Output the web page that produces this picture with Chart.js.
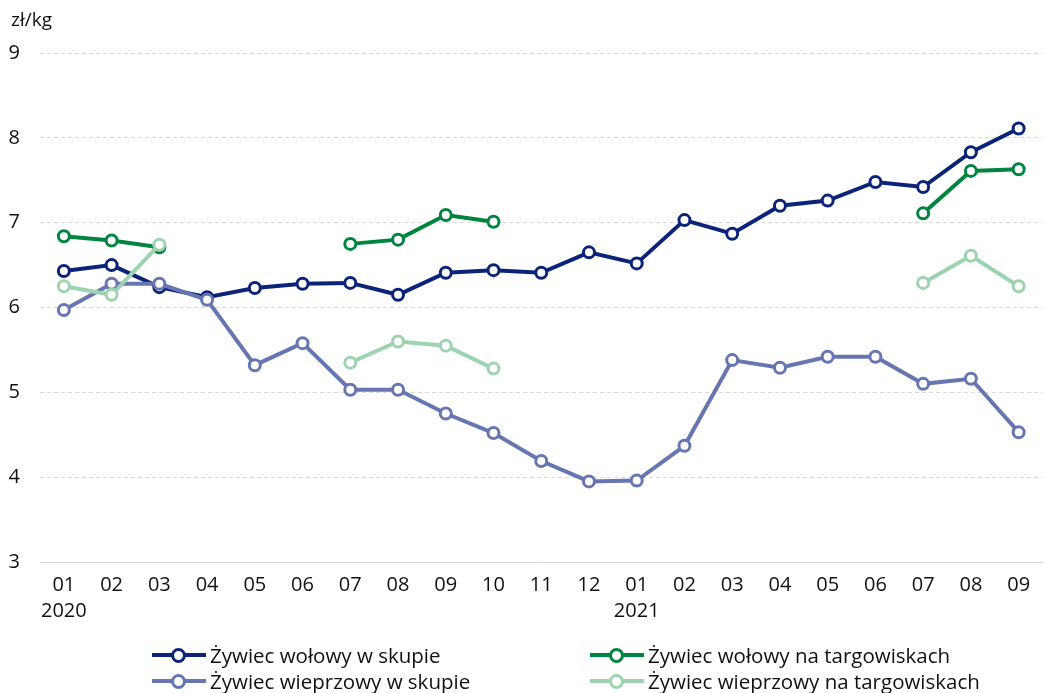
<!DOCTYPE html>
<html>
<head>
<meta charset="utf-8">
<script src="https://cdn.jsdelivr.net/npm/chart.js@4"></script>
<style>
  html, body { margin: 0; padding: 0; background: #fff; }
  #wrap { position: relative; width: 1051px; height: 693px; }
  #legend {
    position: absolute; left: 152px; top: 642px;
    display: grid; grid-template-columns: 438px 420px; row-gap: 1px;
    font-family: "Open Sans", sans-serif; font-size: 20.5px; color: #111;
  }
  .item { display: flex; align-items: center; height: 25px; white-space: nowrap; }
  .mark { position: relative; width: 54px; height: 14px; margin-right: 4px; }
  .mark .ln { position: absolute; left: 0; right: 0; top: 5px; height: 4px; }
  .mark .dot { position: absolute; left: 19px; top: 0; width: 9px; height: 9px; border-radius: 50%; background: #fff; border: 3px solid; }
</style>
</head>
<body>
<div id="wrap">
  <canvas id="chart" width="1051" height="693"></canvas>
  <div id="legend"></div>
</div>
<script>
// miesiące: 01.2020 - 09.2021
const months = ["01","02","03","04","05","06","07","08","09","10","11","12",
                "01","02","03","04","05","06","07","08","09"];
const years = {0: "2020", 12: "2021"};

const wolowySkup = [6.43, 6.50, 6.24, 6.12, 6.23, 6.28, 6.29, 6.15, 6.41, 6.44, 6.41, 6.65,
                    6.52, 7.03, 6.87, 7.20, 7.26, 7.48, 7.42, 7.83, 8.11];
const wolowyTarg = [6.84, 6.79, 6.71, null, null, null, 6.75, 6.80, 7.09, 7.01, null, null,
                    null, null, null, null, null, null, 7.11, 7.61, 7.63];
const wieprzowySkup = [5.97, 6.28, 6.28, 6.09, 5.32, 5.58, 5.03, 5.03, 4.75, 4.52, 4.19, 3.95,
                       3.96, 4.37, 5.38, 5.29, 5.42, 5.42, 5.10, 5.16, 4.53];
const wieprzowyTarg = [6.25, 6.15, 6.74, null, null, null, 5.35, 5.60, 5.55, 5.28, null, null,
                       null, null, null, null, null, null, 6.29, 6.61, 6.25];

const seriesNames = ["Żywiec wołowy w skupie", "Żywiec wołowy na targowiskach",
                     "Żywiec wieprzowy w skupie", "Żywiec wieprzowy na targowiskach"];
const seriesColors = ["#0b2479", "#008540", "#6776b0", "#9dd3b0"];
const seriesData = [wolowySkup, wolowyTarg, wieprzowySkup, wieprzowyTarg];
const drawOrder = [3, 2, 1, 0]; // jasnozielona na wierzchu

const labels = months.map((m, i) => years[i] ? [m, years[i]] : m);

const datasets = seriesData.map((d, i) => ({
  label: seriesNames[i],
  data: d,
  borderColor: seriesColors[i],
  backgroundColor: "#fff",
  pointBackgroundColor: "#fff",
  pointBorderColor: seriesColors[i],
  borderWidth: 4,
  pointRadius: 5.5,
  pointBorderWidth: 3,
  spanGaps: false,
  tension: 0,
  order: drawOrder[i],
}));

// jednostka nad osią Y
const unitLabel = {
  id: "unitLabel",
  afterDraw(chart) {
    const ctx = chart.ctx;
    ctx.save();
    ctx.font = "19px 'Open Sans', sans-serif";
    ctx.fillStyle = "#111";
    ctx.textBaseline = "middle";
    ctx.fillText("zł/kg", 11, 21);
    ctx.restore();
  },
};

new Chart(document.getElementById("chart"), {
  type: "line",
  data: { labels: labels, datasets: datasets },
  plugins: [unitLabel],
  options: {
    responsive: false,
    animation: false,
    layout: { padding: { top: 53, right: 0, left: 0, bottom: 59 } },
    plugins: { legend: { display: false }, tooltip: { enabled: false } },
    scales: {
      x: {
        offset: true,
        grid: { display: false, drawTicks: false },
        border: { display: true, color: "#d9d9d9", width: 1 },
        ticks: {
          color: "#111",
          font: { family: "'Open Sans', sans-serif", size: 20, lineHeight: 1.3 },
          padding: 10,
          maxRotation: 0,
          autoSkip: false,
        },
      },
      y: {
        min: 3,
        max: 9,
        afterFit(scale) { scale.width = 40; },
        grid: { color: "#d9d9d9", lineWidth: 1, drawTicks: false },
        border: { display: false, dash: [4, 3] },
        ticks: {
          stepSize: 1,
          color: "#111",
          font: { family: "'Open Sans', sans-serif", size: 20 },
          padding: 20,
        },
      },
    },
  },
});

// legenda 2x2
const legendEl = document.getElementById("legend");
seriesNames.forEach((name, i) => {
  const item = document.createElement("div");
  item.className = "item";
  item.innerHTML = '<span class="mark"><span class="ln" style="background:' + seriesColors[i] +
    '"></span><span class="dot" style="border-color:' + seriesColors[i] + '"></span></span>' + name;
  legendEl.appendChild(item);
});
</script>
</body>
</html>
